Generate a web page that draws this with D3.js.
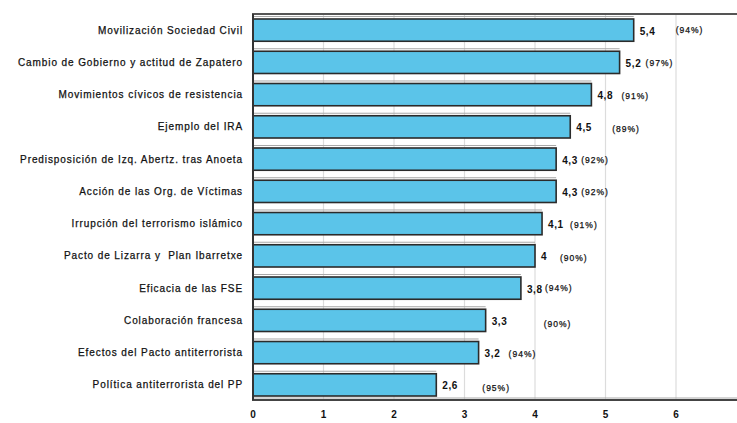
<!DOCTYPE html>
<html>
  <head>
    <meta charset="utf-8">
    <title>Factores</title>
    <script src="https://cdn.jsdelivr.net/npm/d3@7"></script>
    <style>
      body { margin: 0; background: #fff; }
      svg text { font-family: "Liberation Sans", Arial, sans-serif; fill: #111; white-space: pre; }
      svg text.cat, svg text.pct { stroke: #111; stroke-width: 0.25px; }
    </style>
  </head>
  <body>
    <div id="chart"></div>
    <script>
      // data
      var categories = [
        "Movilización Sociedad Civil",
        "Cambio de Gobierno y actitud de Zapatero",
        "Movimientos cívicos de resistencia",
        "Ejemplo del IRA",
        "Predisposición de Izq. Abertz. tras Anoeta",
        "Acción de las Org. de Víctimas",
        "Irrupción del terrorismo islámico",
        "Pacto de Lizarra y  Plan Ibarretxe",
        "Eficacia de las FSE",
        "Colaboración francesa",
        "Efectos del Pacto antiterrorista",
        "Política antiterrorista del PP"
      ];
      var values = [5.4, 5.2, 4.8, 4.5, 4.3, 4.3, 4.1, 4, 3.8, 3.3, 3.2, 2.6];
      var percents = ["(94%)", "(97%)", "(91%)", "(89%)", "(92%)", "(92%)", "(91%)", "(90%)", "(94%)", "(90%)", "(94%)", "(95%)"];
      var xTicks = [0, 1, 2, 3, 4, 5, 6];

      // percent label nudges (layout only, px after the value label)
      var pctDx = [36, 20, 24, 36, 19, 19, 22, 19, 18, 52, 24, 40];
      var pctDy = [-1, 0, 0, 1, 0, 0, 0, 1, -1, 3, 0, 2];

      var w = 737, h = 423;
      var mLeft = 253, mTop = 14, mBottom = 400;

      var svg = d3.select("#chart").append("svg")
          .attr("width", w)
          .attr("height", h);

      var x = d3.scaleLinear().domain([0, 6]).range([mLeft, 676]);
      var y = d3.scaleBand().domain(categories).range([mTop, mBottom + 1])
          .paddingInner(0.31).paddingOuter(0.155);

      // grid lines
      svg.selectAll("line.grid")
          .data(xTicks.slice(1))
          .enter().append("line")
          .attr("class", "grid")
          .attr("x1", function(d) { return x(d); })
          .attr("x2", function(d) { return x(d); })
          .attr("y1", mTop)
          .attr("y2", mBottom)
          .attr("stroke", "#dcdcdc")
          .attr("stroke-width", 1.2);

      // light shadow line above each bar
      svg.selectAll("line.shade")
          .data(values)
          .enter().append("line")
          .attr("class", "shade")
          .attr("x1", mLeft)
          .attr("x2", function(d) { return x(d); })
          .attr("y1", function(d, i) { return y(categories[i]) - 2.5; })
          .attr("y2", function(d, i) { return y(categories[i]) - 2.5; })
          .attr("stroke", "#a8a8a8")
          .attr("stroke-width", 1);

      svg.selectAll("rect.bar")
          .data(values)
          .enter().append("rect")
          .attr("class", "bar")
          .attr("x", mLeft)
          .attr("y", function(d, i) { return y(categories[i]); })
          .attr("width", function(d) { return x(d) - mLeft; })
          .attr("height", y.bandwidth())
          .attr("fill", "#5bc4e9")
          .attr("stroke", "#2b2b2b")
          .attr("stroke-width", 1.6);

      // frame: top line, left axis, bottom axis
      svg.append("line")
          .attr("x1", mLeft - 1).attr("x2", w)
          .attr("y1", mTop).attr("y2", mTop)
          .attr("stroke", "#555").attr("stroke-width", 2);
      svg.append("line")
          .attr("x1", mLeft).attr("x2", w)
          .attr("y1", mBottom - 2).attr("y2", mBottom - 2)
          .attr("stroke", "#aaa").attr("stroke-width", 1);
      svg.append("line")
          .attr("x1", mLeft - 1).attr("x2", w)
          .attr("y1", mBottom).attr("y2", mBottom)
          .attr("stroke", "#444").attr("stroke-width", 2);
      svg.append("line")
          .attr("x1", mLeft).attr("x2", mLeft)
          .attr("y1", mTop).attr("y2", mBottom)
          .attr("stroke", "#333").attr("stroke-width", 2);

      // category labels
      svg.selectAll("text.cat")
          .data(categories)
          .enter().append("text")
          .attr("class", "cat")
          .attr("x", mLeft - 10)
          .attr("y", function(d) { return y(d) + y.bandwidth() / 2; })
          .attr("dy", "0.35em")
          .attr("text-anchor", "end")
          .attr("font-size", "10px")
          .attr("letter-spacing", "0.9px")
          .text(function(d) { return d; });

      // value labels
      var fmt = function(v) { return String(v).replace(".", ","); };
      svg.selectAll("text.val")
          .data(values)
          .enter().append("text")
          .attr("class", "val")
          .attr("x", function(d) { return x(d) + 6; })
          .attr("y", function(d, i) { return y(categories[i]) + y.bandwidth() / 2 + 1; })
          .attr("dy", "0.35em")
          .attr("font-size", "10px")
          .attr("font-weight", "bold")
          .attr("letter-spacing", "0.6px")
          .text(fmt);

      svg.selectAll("text.pct")
          .data(percents)
          .enter().append("text")
          .attr("class", "pct")
          .attr("x", function(d, i) { return x(values[i]) + 6 + pctDx[i]; })
          .attr("y", function(d, i) { return y(categories[i]) + y.bandwidth() / 2 + 1 + pctDy[i]; })
          .attr("dy", "0.35em")
          .attr("font-size", "8.5px")
          .attr("letter-spacing", "1px")
          .text(function(d) { return d; });

      // x tick labels
      svg.selectAll("text.tick")
          .data(xTicks)
          .enter().append("text")
          .attr("class", "tick")
          .attr("x", function(d) { return x(d); })
          .attr("y", 414)
          .attr("dy", "0.35em")
          .attr("text-anchor", "middle")
          .attr("font-size", "10px")
          .attr("font-weight", "bold")
          .text(function(d) { return d; });
    </script>
  </body>
</html>
